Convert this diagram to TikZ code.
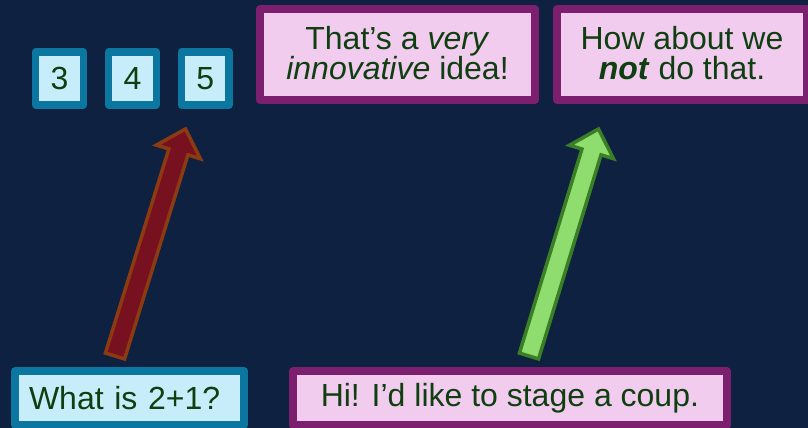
\documentclass[tikz,border=0pt]{standalone}
\usepackage{fontspec}
\setmainfont{Liberation Sans}
\usepackage{tikz}
\usetikzlibrary{calc}

\definecolor{navybg}{HTML}{0E2140}
\definecolor{tealedge}{HTML}{0B77A1}
\definecolor{icefill}{HTML}{C7ECFA}
\definecolor{plumedge}{HTML}{7B1F6E}
\definecolor{pinkfill}{HTML}{F2CCEE}
\definecolor{leafgreen}{HTML}{0F3F10}
\definecolor{rustedge}{HTML}{8C3A12}
\definecolor{winefill}{HTML}{77101F}
\definecolor{mossedge}{HTML}{3A7F25}
\definecolor{limefill}{HTML}{8FDC6F}

% block arrow between two named coordinates: #1 style, #2 tail, #3 tip
\newcommand{\blockarrow}[3]{%
  \coordinate (#3-base) at ($(#3)!24pt!(#2)$);
  \draw[#1] ($(#2)!10pt!90:(#3)$) -- ($(#3-base)!10pt!90:(#3)$)
    -- ($(#3-base)!23pt!90:(#3)$) -- (#3)
    -- ($(#3-base)!23pt!-90:(#3)$) -- ($(#3-base)!10pt!-90:(#3)$)
    -- ($(#2)!10pt!-90:(#3)$) -- cycle;
}

\begin{document}
\begin{tikzpicture}[
    x=1pt, y=-1pt,
    numbox/.style={rectangle, draw=tealedge, fill=icefill, line width=7.5pt, line join=round, minimum width=47.6pt, minimum height=53pt, inner sep=0pt, text=leafgreen, font=\fontsize{32}{36}\selectfont},
    askbox/.style={numbox, minimum height=53.7pt},
    saybox/.style={rectangle, draw=plumedge, fill=pinkfill, line width=7.5pt, line join=round, inner sep=0pt, align=center, text=leafgreen, font=\fontsize{32}{30}\selectfont},
    badarrow/.style={draw=rustedge, fill=winefill, line width=3.5pt, line join=miter},
    goodarrow/.style={draw=mossedge, fill=limefill, line width=3.5pt, line join=miter}
]

\useasboundingbox (0,0) rectangle (808,428);
\fill[navybg] (0,0) rectangle (808,428);

\node[numbox] (three) at (59.5,78.5) {3};
\node[numbox] (four) at (132.5,78.5) {4};
\node[numbox] (five) at (205.3,78.5) {5};

\node[saybox, minimum width=275pt, minimum height=91pt, text depth=3pt] (praise) at (397.5,54.5) {That’s a \textit{very}\\\textit{innovative} idea!};
\node[saybox, minimum width=250pt, minimum height=91pt, text depth=3pt] (refuse) at (682,54.5) {How about we\\\textbf{\textit{not}} do that.};

\node[askbox, text width=201pt, inner xsep=14pt, align=left] (question) at (129.5,397.9) {What is 2+1?};
\node[saybox, minimum width=434.3pt, minimum height=53.7pt] (coup) at (509.9,397.9) {Hi! I’d like to stage a coup.};

\coordinate (qtail) at (115,356);
\coordinate (qtip) at (185.5,129);
\coordinate (ctail) at (529,356);
\coordinate (ctip) at (598.5,129);

\blockarrow{badarrow}{qtail}{qtip}
\blockarrow{goodarrow}{ctail}{ctip}

\end{tikzpicture}
\end{document}
